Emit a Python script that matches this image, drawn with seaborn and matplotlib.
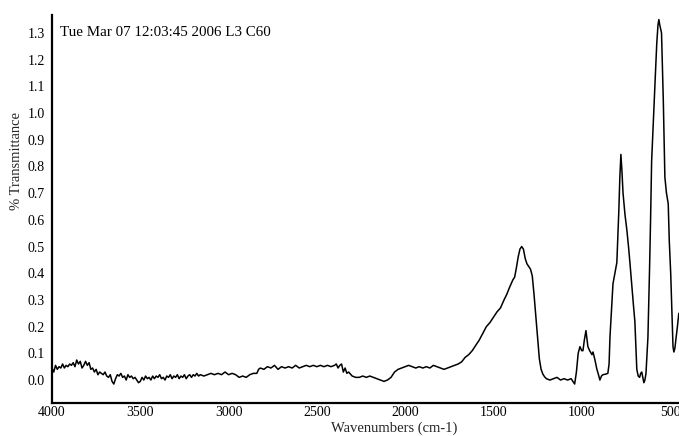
import matplotlib
matplotlib.use("Agg")
import matplotlib.pyplot as plt
import matplotlib.transforms as mtransforms
from matplotlib.ticker import MultipleLocator, FormatStrFormatter
import pandas as pd
import seaborn as sns

# IR spectrum, wavenumber (cm-1) and % transmittance
wavenumber = [
    4000, 3990, 3980, 3970, 3960, 3950, 3940, 3930, 3920, 3910,
    3900, 3890, 3880, 3870, 3860, 3850, 3840, 3830, 3820, 3810,
    3800, 3790, 3780, 3770, 3760, 3750, 3740, 3730, 3720, 3710,
    3700, 3690, 3680, 3670, 3660, 3650, 3640, 3630, 3620, 3610,
    3600, 3590, 3580, 3570, 3560, 3550, 3540, 3530, 3520, 3510,
    3500, 3490, 3480, 3470, 3460, 3450, 3440, 3430, 3420, 3410,
    3400, 3390, 3380, 3370, 3360, 3350, 3340, 3330, 3320, 3310,
    3300, 3290, 3280, 3270, 3260, 3250, 3240, 3230, 3220, 3210,
    3200, 3190, 3180, 3170, 3160, 3140, 3120, 3100, 3080, 3060,
    3040, 3020, 3000, 2980, 2960, 2940, 2920, 2900, 2880, 2860,
    2840, 2830, 2820, 2800, 2780, 2760, 2740, 2720, 2700, 2680,
    2660, 2640, 2620, 2600, 2580, 2560, 2540, 2520, 2500, 2480,
    2460, 2440, 2420, 2400, 2390, 2380, 2370, 2360, 2350, 2340,
    2330, 2320, 2300, 2280, 2260, 2240, 2220, 2200, 2180, 2160,
    2140, 2120, 2100, 2080, 2060, 2040, 2020, 2000, 1980, 1960,
    1940, 1920, 1900, 1880, 1860, 1840, 1820, 1800, 1780, 1760,
    1740, 1720, 1700, 1680, 1660, 1640, 1620, 1600, 1580, 1560,
    1540, 1520, 1500, 1480, 1460, 1440, 1425, 1410, 1400, 1390,
    1380, 1370, 1360, 1350, 1340, 1330, 1320, 1310, 1300, 1290,
    1280, 1270, 1260, 1250, 1240, 1230, 1220, 1210, 1200, 1180,
    1160, 1140, 1120, 1100, 1080, 1060, 1050, 1040, 1030, 1020,
    1010, 1000, 993, 985, 976, 965, 955, 942, 936, 925,
    914, 905, 897, 888, 880, 865, 852, 845, 840, 829,
    823, 812, 801, 790, 784, 778, 772, 766, 755, 744,
    735, 727, 716, 707, 699, 688, 680, 672, 666, 660,
    654, 648, 642, 636, 630, 625, 620, 616, 610, 604,
    595, 585, 575, 568, 563, 558, 548, 538, 529, 520,
    510, 504, 496, 489, 483, 478, 472, 467, 458, 450,
]
transmittance = [
    0.045, 0.030, 0.055, 0.040, 0.050, 0.045, 0.060, 0.045, 0.055, 0.050,
    0.060, 0.055, 0.065, 0.050, 0.075, 0.060, 0.070, 0.045, 0.055, 0.070,
    0.055, 0.065, 0.040, 0.045, 0.030, 0.040, 0.020, 0.030, 0.025, 0.020,
    0.030, 0.015, 0.010, 0.020, -0.005, -0.015, 0.005, 0.020, 0.015, 0.025,
    0.010, 0.015, 0.000, 0.020, 0.010, 0.015, 0.005, 0.010, 0.000, -0.010,
    -0.005, 0.010, 0.000, 0.015, 0.005, 0.010, 0.000, 0.015, 0.005, 0.015,
    0.010, 0.020, 0.005, 0.010, 0.000, 0.015, 0.010, 0.020, 0.005, 0.015,
    0.010, 0.020, 0.005, 0.015, 0.010, 0.020, 0.005, 0.015, 0.020, 0.010,
    0.020, 0.015, 0.025, 0.015, 0.020, 0.015, 0.020, 0.025, 0.020, 0.025,
    0.020, 0.030, 0.020, 0.025, 0.020, 0.010, 0.015, 0.010, 0.020, 0.025,
    0.025, 0.040, 0.045, 0.040, 0.050, 0.045, 0.055, 0.040, 0.050, 0.045,
    0.050, 0.045, 0.055, 0.045, 0.050, 0.055, 0.050, 0.055, 0.050, 0.055,
    0.050, 0.055, 0.050, 0.055, 0.060, 0.045, 0.055, 0.060, 0.030, 0.045,
    0.025, 0.030, 0.015, 0.010, 0.010, 0.015, 0.010, 0.015, 0.010, 0.005,
    0.000, -0.005, 0.000, 0.010, 0.030, 0.040, 0.045, 0.050, 0.055, 0.050,
    0.045, 0.050, 0.045, 0.050, 0.045, 0.055, 0.050, 0.045, 0.040, 0.045,
    0.050, 0.055, 0.060, 0.068, 0.085, 0.095, 0.110, 0.130, 0.150, 0.175,
    0.200, 0.215, 0.235, 0.255, 0.270, 0.300, 0.320, 0.345, 0.360, 0.375,
    0.385, 0.420, 0.460, 0.490, 0.500, 0.490, 0.455, 0.435, 0.425, 0.415,
    0.390, 0.320, 0.240, 0.160, 0.080, 0.040, 0.022, 0.012, 0.005, 0.000,
    0.005, 0.010, 0.000, 0.005, 0.000, 0.005, -0.005, -0.015, 0.030, 0.100,
    0.125, 0.110, 0.110, 0.150, 0.185, 0.125, 0.110, 0.095, 0.105, 0.075,
    0.040, 0.020, 0.000, 0.015, 0.020, 0.022, 0.025, 0.060, 0.160, 0.290,
    0.360, 0.400, 0.440, 0.630, 0.760, 0.845, 0.780, 0.700, 0.620, 0.560,
    0.500, 0.440, 0.350, 0.280, 0.220, 0.040, 0.015, 0.010, 0.025, 0.030,
    0.010, -0.010, 0.000, 0.025, 0.100, 0.160, 0.300, 0.410, 0.600, 0.820,
    0.960, 1.110, 1.260, 1.330, 1.350, 1.330, 1.300, 1.050, 0.760, 0.700,
    0.660, 0.520, 0.400, 0.250, 0.125, 0.105, 0.120, 0.150, 0.200, 0.250,
]

x_ticks = [4000, 3500, 3000, 2500, 2000, 1500, 1000, 500]
y_ticks = [0.0, 0.1, 0.2, 0.3, 0.4, 0.5, 0.6, 0.7, 0.8, 0.9, 1.0, 1.1, 1.2, 1.3]
stamp = "Tue Mar 07 12:03:45 2006 L3 C60"

spectrum = pd.DataFrame({"wavenumber": wavenumber, "transmittance": transmittance})

sns.set_style("white")
plt.rcParams["font.family"] = ["Liberation Serif", "DejaVu Serif"]

fig = plt.figure(figsize=(6.79, 4.36), dpi=100)
ax = fig.add_axes([52 / 679, 33 / 436, 627 / 679, 388 / 436])

sns.lineplot(data=spectrum, x="wavenumber", y="transmittance", ax=ax,
             color="black", linewidth=1.1, estimator=None, sort=False)

ax.set_xlim(4000, 449)
ax.set_ylim(-0.086, 1.367)
ax.set_xticks(x_ticks)
ax.set_yticks(y_ticks)
ax.yaxis.set_major_formatter(FormatStrFormatter("%.1f"))
ax.xaxis.set_minor_locator(MultipleLocator(100))

for side in ("top", "right"):
    ax.spines[side].set_visible(False)
for side in ("left", "bottom"):
    ax.spines[side].set_linewidth(1.6)
    ax.spines[side].set_color("black")

ax.tick_params(axis="x", which="major", direction="in", length=4, width=1,
               labelsize=10, pad=2.5, colors="black")
ax.tick_params(axis="x", which="minor", direction="in", length=2.5, width=0.8,
               colors="black")
ax.tick_params(axis="y", which="major", direction="out", length=3, width=1,
               labelsize=10, pad=2, colors="black")

ax.set_xlabel("Wavenumbers (cm-1)", fontsize=10.5)
ax.set_ylabel("% Transmittance", fontsize=10.5)
ax.xaxis.set_label_coords(0.545, -0.047)
ax.yaxis.set_label_coords(-0.046, 0.623)

trans = mtransforms.blended_transform_factory(ax.transAxes, ax.transData)
ax.text(0.012, 1.3, stamp, transform=trans, fontsize=10.8,
        ha="left", va="center", color="black")

fig.savefig("out.png", dpi=100, facecolor="white")
